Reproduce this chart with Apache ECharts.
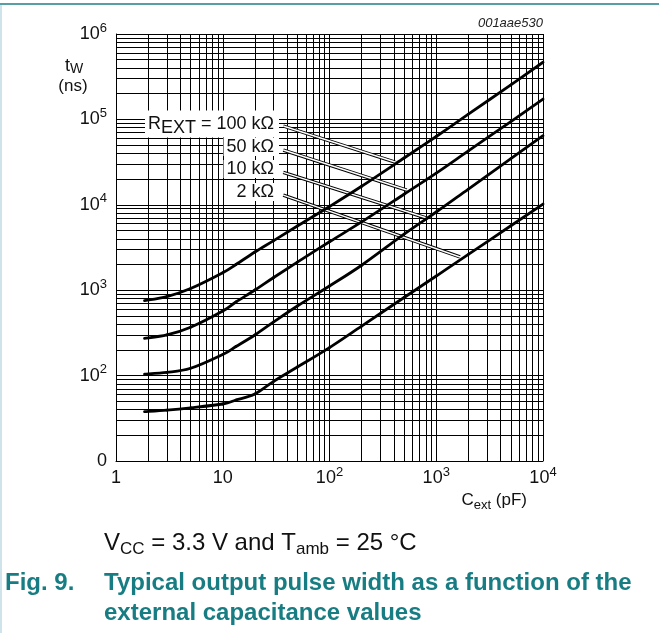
<!DOCTYPE html>
<html><head><meta charset="utf-8">
<script src="https://cdn.jsdelivr.net/npm/echarts@6/dist/echarts.min.js"></script>
<style>html,body{margin:0;padding:0;background:#fff;}#c{width:659px;height:633px;}</style>
</head><body><div id="c"></div>
<script>
// ---- data ----
const cExt   = [1.85, 3, 5, 10, 13.3, 20, 30, 50, 100, 200, 500, 1000, 2000, 5000, 10000];
const tw100k = [754, 843, 1047, 1603, 2000, 2800, 3810, 5640, 9550, 16500, 35300, 63100, 115000, 254000, 467000];
const tw50k  = [273, 299, 368, 570, 728, 1005, 1408, 2130, 3690, 6300, 13300, 23500, 42800, 94400, 173000];
const tw10k  = [104, 109, 122, 177, 219, 299, 425, 653, 1120, 1960, 4530, 8240, 15300, 34700, 64400];
const tw2k   = [37.8, 39.5, 42, 46.5, 51.8, 61, 85.7, 126, 213, 380, 822, 1465, 2630, 5680, 10200];
const seriesNames = ['100 kΩ', '50 kΩ', '10 kΩ', '2 kΩ'];
const seriesLabels = ['R{sub|EXT} = 100 kΩ', '50 kΩ', '10 kΩ', '2 kΩ'];
const xTickValues = [1, 10, 100, 1000, 10000];
const xTickText   = ['1', '10', '10{sup|2}', '10{sup|3}', '10{sup|4}'];
const yTickValues = [10, 100, 1000, 10000, 100000, 1000000];
const yTickText   = ['0', '10{sup|2}', '10{sup|3}', '10{sup|4}', '10{sup|5}', '10{sup|6}'];
// leader lines (data coordinates: [C, tW])
const leaderStart = [[36.9, 83700], [36.9, 43800], [36.9, 24000], [36.9, 13000]];
const leaderEnd   = [[411, 31700], [529, 14900], [814, 7000], [1668, 2450]];

// grid positions of log paper (1..9 per decade)
const xGrid = [], yGrid = [];
for (let k = 0; k < 4; k++) for (let m = 1; m < 10; m++) xGrid.push(m * Math.pow(10, k));
xGrid.push(10000);
for (let k = 1; k < 6; k++) for (let m = 1; m < 10; m++) yGrid.push(m * Math.pow(10, k));
yGrid.push(1000000);

const FONT = 'Liberation Sans, Arial, sans-serif';
const supRich = {
  base: {fontSize: 18, lineHeight: 25, fontFamily: FONT, color: '#111'},
  sup: {fontSize: 13, lineHeight: 12, verticalAlign: 'top', fontFamily: FONT, color: '#111'}
};
function fmt(values, texts) {
  return function (v) {
    let best = 0, d = Infinity;
    for (let i = 0; i < values.length; i++) {
      const dd = Math.abs(Math.log10(v) - Math.log10(values[i]));
      if (dd < d) { d = dd; best = i; }
    }
    return texts[best].replace(/^([^{]*)/, '{base|$1}');
  };
}

const chart = echarts.init(document.getElementById('c'), null, {renderer: 'canvas'});
const curveData = [tw100k, tw50k, tw10k, tw2k];
const series = [];
series.push({
  type: 'line', data: [[1, 10]], showSymbol: false, lineStyle: {opacity: 0}, z: 1, silent: true,
  markLine: {
    silent: true, symbol: ['none', 'none'], label: {show: false}, animation: false,
    lineStyle: {color: '#000', width: 1, type: 'solid'},
    emphasis: {disabled: true},
    data: xGrid.map(v => ({xAxis: v})).concat(yGrid.map(v => ({yAxis: v})))
  }
});
series.push({
  type: 'line', data: [[1, 10]], showSymbol: false, lineStyle: {opacity: 0}, z: 2, silent: true,
  markLine: {
    silent: true, symbol: ['none', 'none'], label: {show: false}, animation: false,
    lineStyle: {color: '#000', width: 3.4, type: 'solid'},
    emphasis: {disabled: true},
    data: leaderStart.map((s, i) => [{coord: s}, {coord: leaderEnd[i]}])
  }
});
series.push({
  type: 'line', data: [[1, 10]], showSymbol: false, lineStyle: {opacity: 0}, z: 3, silent: true,
  markLine: {
    silent: true, symbol: ['none', 'none'], label: {show: false}, animation: false,
    lineStyle: {color: '#fff', width: 1.4, type: 'solid'},
    emphasis: {disabled: true},
    data: leaderStart.map((s, i) => [{coord: s}, {coord: leaderEnd[i]}])
  }
});
// smooth curves: Catmull-Rom through points mapped by the axes (api.coord)
curveData.forEach((arr, i) => {
  series.push({
    name: seriesNames[i], type: 'custom', z: 5, silent: true,
    data: [[cExt[0], arr[0]]],
    renderItem: function (params, api) {
      const P = cExt.map((c, j) => api.coord([c, arr[j]]));
      const n = P.length;
      const children = [];
      for (let j = 0; j < n - 1; j++) {
        const p0 = P[Math.max(j - 1, 0)], p1 = P[j], p2 = P[j + 1], p3 = P[Math.min(j + 2, n - 1)];
        children.push({
          type: 'bezierCurve',
          shape: {
            x1: p1[0], y1: p1[1], x2: p2[0], y2: p2[1],
            cpx1: p1[0] + (p2[0] - p0[0]) / 6, cpy1: p1[1] + (p2[1] - p0[1]) / 6,
            cpx2: p2[0] - (p3[0] - p1[0]) / 6, cpy2: p2[1] - (p3[1] - p1[1]) / 6
          },
          style: {stroke: '#000', lineWidth: 2.8, fill: null, lineCap: 'round'}
        });
      }
      return {type: 'group', children: children};
    }
  });
});

const labelY = [124, 147, 169, 192];
const graphics = [
  {type: 'rect', shape: {x: 0, y: 3, width: 659, height: 2}, style: {fill: '#5a9ea5'}},
  {type: 'rect', shape: {x: 0, y: 5, width: 2, height: 628}, style: {fill: '#cfe4ea'}},
  {type: 'text', x: 543, y: 23, style: {text: '001aae530', font: 'italic 13px ' + FONT, fill: '#222', textAlign: 'right', textVerticalAlign: 'middle'}},
  {type: 'text', x: 74, y: 66, style: {text: 't{sub|W}', font: '18px ' + FONT, fill: '#111', textAlign: 'center', textVerticalAlign: 'middle',
     rich: {sub: {fontSize: 14, fontFamily: FONT, padding: [7,0,0,0]}}}},
  {type: 'text', x: 73, y: 86, style: {text: '(ns)', font: '17px ' + FONT, fill: '#111', textAlign: 'center', textVerticalAlign: 'middle'}},
  {type: 'text', x: 527, y: 500, style: {text: 'C{sub|ext} (pF)', font: '17px ' + FONT, fill: '#111', textAlign: 'right', textVerticalAlign: 'middle',
     rich: {sub: {fontSize: 13, fontFamily: FONT, padding: [10,0,0,0]}}}},
  {type: 'text', x: 104, y: 543, style: {text: 'V{sub|CC} = 3.3 V and T{sub|amb} = 25 °C', font: '24px ' + FONT, fill: '#111', textAlign: 'left', textVerticalAlign: 'middle',
     rich: {sub: {fontSize: 17, fontFamily: FONT, padding: [12,0,0,0]}}}},
  {type: 'text', x: 5, y: 583, style: {text: 'Fig. 9.', font: 'bold 24px ' + FONT, fill: '#177d83', textAlign: 'left', textVerticalAlign: 'middle'}},
  {type: 'text', x: 104, y: 583, style: {text: 'Typical output pulse width as a function of the', font: 'bold 24px ' + FONT, fill: '#177d83', textAlign: 'left', textVerticalAlign: 'middle'}},
  {type: 'text', x: 104, y: 613, style: {text: 'external capacitance values', font: 'bold 24px ' + FONT, fill: '#177d83', textAlign: 'left', textVerticalAlign: 'middle'}}
];
seriesLabels.forEach((t, i) => {
  graphics.push({type: 'text', x: 279, y: labelY[i], z: 10, style: {
    text: t, font: '18px ' + FONT, fill: '#111', textAlign: 'right', textVerticalAlign: 'middle',
    backgroundColor: '#fff', padding: [0, 5, 0, 3],
    rich: {sub: {fontSize: 18, fontFamily: FONT, padding: [9,0,0,0]}}
  }});
});

chart.setOption({
  animation: false,
  backgroundColor: '#fff',
  grid: {left: 116, right: 116, top: 34, bottom: 172, containLabel: false},
  xAxis: {
    type: 'log', logBase: 10, min: 1, max: 10000,
    axisLine: {show: true, lineStyle: {color: '#000', width: 1}},
    axisTick: {show: false}, splitLine: {show: false}, minorSplitLine: {show: false},
    axisLabel: {margin: 5, formatter: fmt(xTickValues, xTickText), rich: supRich}
  },
  yAxis: {
    type: 'log', logBase: 10, min: 10, max: 1000000,
    axisLine: {show: true, lineStyle: {color: '#000', width: 1}},
    axisTick: {show: false}, splitLine: {show: false},
    axisLabel: {margin: 9, formatter: fmt(yTickValues, yTickText), rich: supRich}
  },
  series: series,
  graphic: graphics
});
</script></body></html>
